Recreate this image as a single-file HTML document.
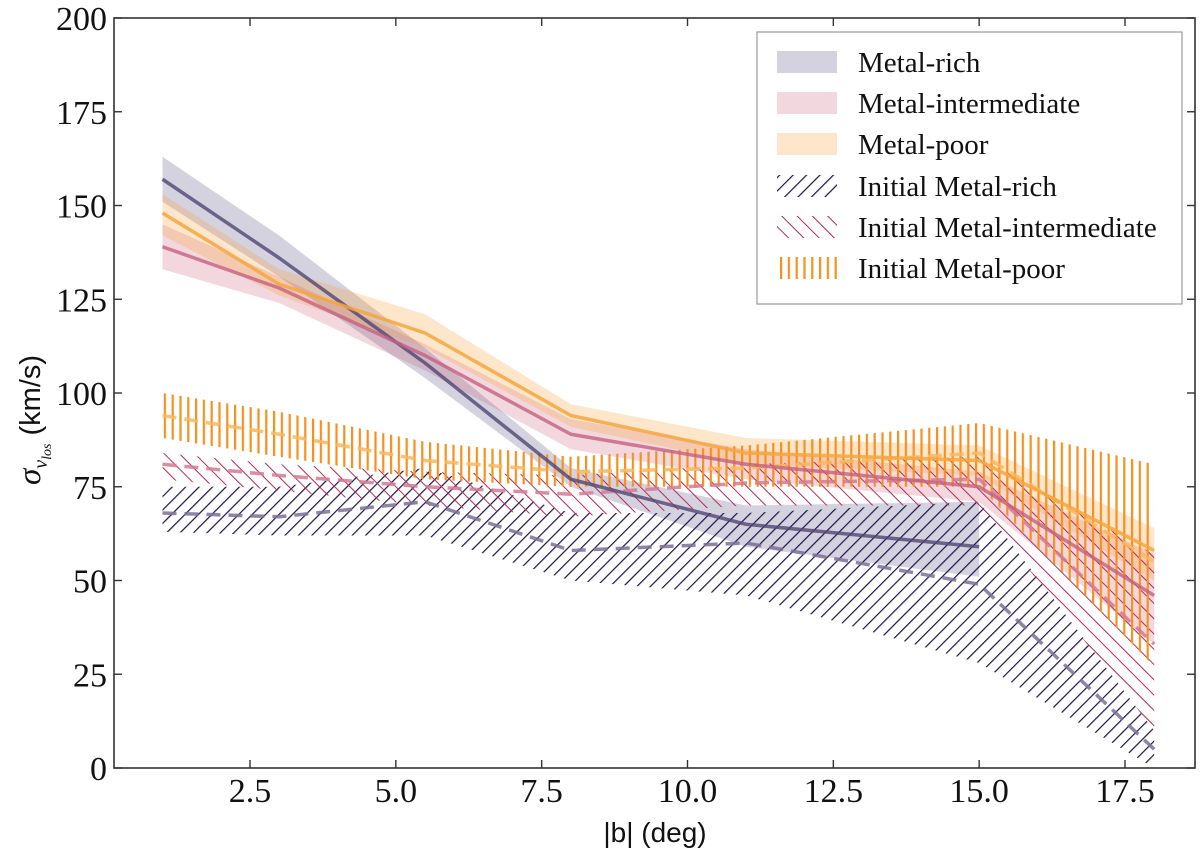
<!DOCTYPE html>
<html><head><meta charset="utf-8"><style>
html,body{margin:0;padding:0;background:#fff;}
svg{display:block;}
text{font-family:"Liberation Serif",serif;fill:#111;}
</style></head><body>
<svg id="chart" width="1200" height="858" viewBox="0 0 1200 858" xmlns="http://www.w3.org/2000/svg">
<defs>
<clipPath id="plotclip"><rect x="114" y="18" width="1081" height="750"/></clipPath>
<pattern id="hatch-rich" patternUnits="userSpaceOnUse" width="9.5" height="9.5" patternTransform="rotate(45)"><line x1="0" y1="0" x2="0" y2="9.5" stroke="#1c1248" stroke-width="2.4"/></pattern>
<pattern id="hatch-int" patternUnits="userSpaceOnUse" width="10.8" height="10.8" patternTransform="rotate(-45)"><line x1="0" y1="0" x2="0" y2="10.8" stroke="#b52a52" stroke-width="2"/></pattern>
<pattern id="hatch-poor" patternUnits="userSpaceOnUse" width="7.8" height="7.8"><line x1="1" y1="0" x2="1" y2="7.8" stroke="#f7901e" stroke-width="2.4"/></pattern>
</defs>
<g id="plot" clip-path="url(#plotclip)"></g>
<g id="axes"></g>
</svg>
<script>
const xs = [1, 3, 5.5, 8, 11, 15, 18];
const xTicks = [2.5, 5.0, 7.5, 10.0, 12.5, 15.0, 17.5];
const yTicks = [0, 25, 50, 75, 100, 125, 150, 175, 200];

const richX = [1, 3, 5.5, 8, 11, 15];
const richMean = [157, 136, 108, 77, 65, 59];
const richHi = [163, 142, 112, 80, 70, 71];
const richLo = [151, 131, 104, 75, 59, 51];

const intMean = [139, 128, 110, 89, 81, 75, 46];
const intHi = [145, 131, 113, 93, 85, 79, 57];
const intLo = [133, 124, 106, 85, 77, 71, 33];

const poorMean = [148, 129, 116, 94, 84, 82, 58];
const poorHi = [153, 133, 121, 97, 88, 86, 64];
const poorLo = [142, 126, 112, 91, 81, 78, 50];

const iRichMean = [68, 67, 71, 58, 60, 49, 5];
const iRichHi = [75, 75, 80, 68, 68, 71, 10];
const iRichLo = [63, 62, 62, 50, 46, 28, 0];

const iIntMean = [81, 78, 75, 73, 76, 77, 33];
const iIntHi = [84, 81, 79, 78, 81, 83, 57];
const iIntLo = [77, 74, 70, 67, 70, 70, 10];

const iPoorMean = [94, 89, 82, 79, 80, 84, 55];
const iPoorHi = [100, 95, 87, 83, 86, 92, 81];
const iPoorLo = [88, 83, 77, 75, 75, 75, 27];

const X0 = 114, X1 = 1195, Y0 = 768, Y1 = 18;
function xs2px(v){ return 250 + (v - 2.5) * (1125 - 250) / 15; }
function ys2px(v){ return Y0 - v * (Y0 - Y1) / 200; }
const NS = "http://www.w3.org/2000/svg";
const plot = document.getElementById('plot');
const axes = document.getElementById('axes');
function mk(tag, attrs, parent){
  const e = document.createElementNS(NS, tag);
  for (const k in attrs) e.setAttribute(k, attrs[k]);
  parent.appendChild(e); return e;
}
function bandPts(x, hi, lo){
  const a = x.map((v,i)=>xs2px(v)+','+ys2px(hi[i]));
  const b = x.map((v,i)=>xs2px(v)+','+ys2px(lo[i])).reverse();
  return a.concat(b).join(' ');
}
function linePts(x, m){ return x.map((v,i)=>xs2px(v)+','+ys2px(m[i])).join(' '); }

function band(name, x, hi, lo, fill, op){
  const p = mk('polygon', {points: bandPts(x,hi,lo), fill: fill, 'fill-opacity': op, stroke: 'none'}, plot);
  
  
}
function line(name, x, m, color, dash, op){
  const attrs = {points: linePts(x,m), fill:'none', stroke: color, 'stroke-width': 3.5, 'stroke-opacity': op, 'stroke-linejoin':'round'};
  if (dash) attrs['stroke-dasharray'] = dash;
  const l = mk('polyline', attrs, plot);
  
  
}

band('metal-rich-band', richX, richHi, richLo, '#2a1f5e', 0.2);
band('metal-intermediate-band', xs, intHi, intLo, '#c03a5c', 0.2);
band('metal-poor-band', xs, poorHi, poorLo, '#fb9a2a', 0.25);

band('initial-metal-rich-hatch', xs, iRichHi, iRichLo, 'url(#hatch-rich)', 1);
band('initial-metal-intermediate-hatch', xs, iIntHi, iIntLo, 'url(#hatch-int)', 1);
band('initial-metal-poor-hatch', xs, iPoorHi, iPoorLo, 'url(#hatch-poor)', 1);

line('initial-metal-rich-line', xs, iRichMean, '#7a7096', '14 8', 0.85);
line('initial-metal-intermediate-line', xs, iIntMean, '#d47a95', '14 8', 0.85);
line('initial-metal-poor-line', xs, iPoorMean, '#f9b75f', '14 8', 0.85);

line('metal-rich-line', richX, richMean, '#4f4672', null, 0.8);
line('metal-intermediate-line', xs, intMean, '#c4607f', null, 0.8);
line('metal-poor-line', xs, poorMean, '#f5a640', null, 0.85);

const frame = mk('rect', {x:X0, y:Y1, width:X1-X0, height:Y0-Y1, fill:'none', stroke:'#333', 'stroke-width':1.6}, axes);



xTicks.forEach(v=>{
  const x = xs2px(v);
  mk('line', {x1:x, y1:Y0, x2:x, y2:Y0-8, stroke:'#333', 'stroke-width':1.4}, axes);
  mk('line', {x1:x, y1:Y1, x2:x, y2:Y1+8, stroke:'#333', 'stroke-width':1.4}, axes);
  const t = mk('text', {x:x, y:Y0+34, 'text-anchor':'middle', 'font-size':34}, axes);
  t.textContent = v.toFixed(1);
  
  
});
yTicks.forEach(v=>{
  const y = ys2px(v);
  mk('line', {x1:X0, y1:y, x2:X0+8, y2:y, stroke:'#333', 'stroke-width':1.4}, axes);
  mk('line', {x1:X1, y1:y, x2:X1-8, y2:y, stroke:'#333', 'stroke-width':1.4}, axes);
  const t = mk('text', {x:X0-7, y:y+12, 'text-anchor':'end', 'font-size':34}, axes);
  t.textContent = String(v);
  
  
});
</script>
<svg style="position:absolute;left:0;top:0" width="1200" height="858">
<text x="655" y="842" text-anchor="middle" font-size="28" style="font-family:'Liberation Sans',sans-serif">|b| (deg)</text>
<g transform="translate(40,420) rotate(-90)">
<text x="0" y="0" text-anchor="middle" font-size="29" style="font-family:'Liberation Sans',sans-serif"><tspan font-style="italic" style="font-family:'Liberation Serif',serif" font-size="33">σ</tspan><tspan font-style="italic" font-size="20" dy="7" style="font-family:'Liberation Serif',serif">v</tspan><tspan font-style="italic" font-size="14" dy="4" style="font-family:'Liberation Serif',serif">los</tspan><tspan dy="-11"> (km/s)</tspan></text>
</g>
<g>
<rect x="757" y="32" width="425" height="272" fill="#fff" stroke="#999" stroke-width="1.2"/>
<rect x="777" y="51" width="60" height="22" fill="#2a1f5e" fill-opacity="0.2"/>
<rect x="777" y="92" width="60" height="22" fill="#c03a5c" fill-opacity="0.2"/>
<rect x="777" y="133" width="60" height="22" fill="#fb9a2a" fill-opacity="0.25"/>
<rect x="777" y="175" width="60" height="22" fill="url(#hatch-rich)"/>
<rect x="777" y="216" width="60" height="22" fill="url(#hatch-int)"/>
<rect x="777" y="257" width="60" height="22" fill="url(#hatch-poor)"/>
<text x="858" y="72" font-size="29">Metal-rich</text>
<text x="858" y="113" font-size="29">Metal-intermediate</text>
<text x="858" y="154" font-size="29">Metal-poor</text>
<text x="858" y="196" font-size="29">Initial Metal-rich</text>
<text x="858" y="237" font-size="29">Initial Metal-intermediate</text>
<text x="858" y="278" font-size="29">Initial Metal-poor</text>
</g>
</svg>
</body></html>
